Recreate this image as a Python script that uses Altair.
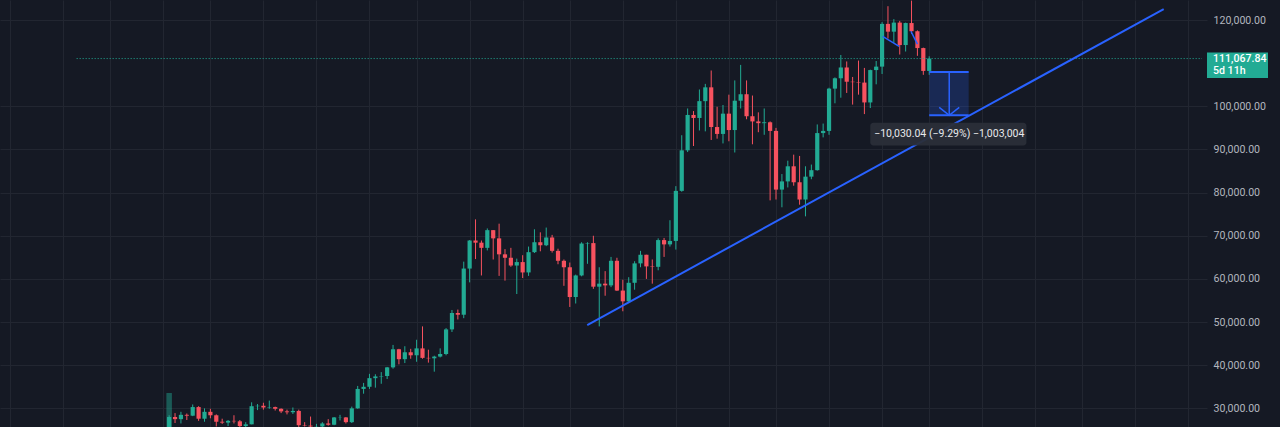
import altair as alt
import pandas as pd

# ---------------- data (weekly BTC candles, first candle = week of 2023-03-13) ----------------
base_date = "2023-03-13"
opens = [20600, 28000, 27500, 28500, 28300, 30300, 27600, 29200, 28400, 26900,
         26700, 27100, 27000, 25900, 26300, 30500, 30600, 30200, 30300, 29900,
         29300, 29100, 29400, 26100, 26000, 25800, 25800, 26500, 26200, 27900,
         27900, 26800, 30000, 34500, 35000, 37000, 37400, 37500, 39500, 43700,
         41400, 43000, 42300, 43900, 41700, 41600, 42000, 42600, 48300, 52100,
         51700, 62400, 68900, 68400, 67200, 71300, 69400, 65700, 64900, 63100,
         63900, 61500, 66200, 68500, 67800, 69600, 66500, 64200, 62700, 55800,
         60800, 68200, 68300, 58200, 58900, 58500, 64200, 57300, 54800, 59100,
         63600, 65600, 62900, 62800, 69000, 68000, 68800, 80400, 89800, 98000,
         97300, 101200, 104400, 95200, 93600, 98300, 94500, 101300, 102800, 97700,
         96500, 96100, 96300, 94300, 80700, 82600, 86100, 82400, 78400, 83700,
         85200, 93800, 94300, 104100, 106500, 109000, 105700, 105600, 105500, 100900,
         108400, 109200, 119100, 117300, 119400, 114200, 119300, 117400, 113500, 108200]
highs = [28400, 28900, 29200, 28800, 30900, 30500, 30000, 29900, 28600, 27600,
         27300, 28400, 27300, 26800, 31400, 31000, 31300, 31800, 30400, 30000,
         29700, 30200, 29700, 26800, 28100, 26400, 26800, 27500, 28000, 28500,
         28000, 30400, 35200, 35900, 38000, 37900, 38400, 39600, 44700, 43800,
         44400, 43800, 45900, 49000, 43600, 42200, 43900, 48600, 52800, 52900,
         64000, 69000, 73800, 68900, 71700, 71300, 72800, 66900, 67200, 64700,
         65500, 67500, 71500, 70800, 71900, 70200, 67000, 64500, 63800, 61000,
         68500, 68500, 70000, 62700, 61800, 65100, 64900, 59800, 60400, 64100,
         66500, 65600, 64500, 69400, 69500, 73600, 81500, 93300, 99500, 98900,
         103900, 105200, 108300, 99900, 100300, 102700, 106000, 109600, 106000, 102500,
         98600, 99500, 96500, 95000, 84300, 87400, 88800, 88500, 86100, 86500,
         95800, 96000, 104300, 106700, 111900, 110400, 106800, 110600, 108900, 108500,
         110500, 119500, 123200, 120200, 119800, 119400, 124500, 117600, 113600, 111600]
lows = [19600, 26600, 26500, 27300, 28200, 27100, 26900, 27700, 25800, 26400,
        25900, 26500, 25400, 24800, 26300, 29600, 29700, 29900, 29500, 28900,
        28600, 28700, 25200, 25800, 25400, 25400, 24900, 26000, 26100, 27200,
        26500, 26600, 29900, 33400, 34500, 34800, 35700, 36800, 39200, 40200,
        40500, 41500, 40800, 41500, 40600, 38500, 41800, 42300, 47700, 50600,
        50900, 59200, 64600, 60800, 66600, 64500, 60700, 59600, 62800, 56500,
        60200, 60700, 66000, 66400, 67600, 66100, 63400, 58400, 53500, 54300,
        60600, 63500, 57700, 49000, 56100, 58100, 57200, 52500, 54600, 57500,
        62700, 60000, 58900, 62000, 65100, 67500, 66800, 80200, 89400, 90800,
        94400, 94200, 92200, 92500, 91400, 91900, 89300, 99500, 97000, 91200,
        94000, 93400, 78200, 78400, 76600, 81200, 81600, 77200, 74500, 83100,
        85100, 92800, 93400, 100700, 102000, 103100, 100400, 102700, 98200, 99600,
        105100, 107500, 115700, 114700, 112000, 112700, 116800, 111700, 107300, 107300]
closes = [28000, 27500, 28500, 28300, 30300, 27600, 29200, 28400, 26900, 26700,
          27100, 27000, 25900, 26300, 30500, 30600, 30200, 30300, 29900, 29300,
          29100, 29400, 26100, 26000, 25800, 25850, 26500, 26200, 27900, 27950,
          26800, 30000, 34500, 35000, 37000, 37400, 37500, 39500, 43700, 41400,
          43000, 42300, 43900, 41700, 41600, 42000, 42600, 48300, 52100, 51700,
          62400, 68900, 68400, 67200, 71300, 69400, 65700, 64900, 63100, 63900,
          61500, 66200, 68500, 67800, 69600, 66500, 64200, 62700, 55800, 60800,
          68200, 68300, 58200, 58900, 58500, 64200, 57300, 54800, 59100, 63600,
          65600, 62900, 62800, 69000, 68000, 68800, 80400, 89800, 98000, 97300,
          101200, 104400, 95200, 93600, 98300, 94500, 101300, 102800, 97700, 96500,
          96100, 96300, 94300, 80700, 82600, 86100, 82400, 78400, 83700, 85200,
          93800, 94300, 104100, 106500, 109000, 105700, 105600, 105500, 100900, 108400,
          109200, 119100, 117300, 119400, 114200, 119300, 117400, 113500, 108200, 111067.84]

volume_week = [0]          # the only volume-overlay bar tall enough to be visible
volume_top = [33556]

last_price = 111067.84
last_price_text = "111,067.84"
countdown_text = "5d 11h"
price_line_i = [-15.7, 175.3]   # dotted last-price line extent (week index)

# trend line (week index, price)
trend_i = [70.96, 168.8]
trend_v = [49316, 122549]

# small drawn segments near the top
seg_id = ["a", "a", "b", "b"]
seg_i = [121.1, 123.9, 125.9, 127.0]
seg_v = [116200, 113900, 117400, 114400]

# price-range measurement
measure_i = [129.0, 135.7]
measure_top = 107966
measure_bottom = 97936
measure_arrow_i = 132.4
arrow_head_i = [130.7, 132.4, 134.1]
arrow_head_v = [99770, 97936, 99770]
measure_text = "\u221210,030.04 (\u22129.29%) \u22121,003,004"
label_i = [119.0, 145.5]
label_v = [96200, 90900]
label_text_v = 93550

price_ticks = [30000, 40000, 50000, 60000, 70000, 80000, 90000, 100000, 120000]

# ---------------- styling ----------------
BG = "#151924"
GRID = "#222631"
UP = "#22ab94"
DOWN = "#f7525f"
BLUE = "#2962ff"
LABEL = "#b2b5be"
FONT = "Roboto"

base = pd.Timestamp(base_date)
grid_i = []
for yr in range(2022, 2027):
    for m in (1, 3, 5, 7, 9, 11):
        d = pd.Timestamp(year=yr, month=m, day=1)
        d = d + pd.Timedelta(days=(7 - d.weekday()) % 7)
        grid_i.append((d - base).days / 7)

x_dom = [-27.86, 175.3]
y_dom = [25680, 124640]
grid_i = [g for g in grid_i if x_dom[0] < g < x_dom[1]]

xs = alt.Scale(domain=x_dom, nice=False, zero=False)
ys = alt.Scale(domain=y_dom, nice=False, zero=False)
x_axis = alt.Axis(values=grid_i, labels=False, ticks=False, domain=False, grid=True,
                  gridColor=GRID, gridWidth=1, title=None, minExtent=0, maxExtent=0)
y_axis = alt.Axis(orient="right", values=price_ticks, format=",.2f", grid=True,
                  gridColor=GRID, gridWidth=1, ticks=False, domain=False, title=None,
                  labelColor=LABEL, labelFont=FONT, labelFontSize=10.6, labelPadding=6,
                  minExtent=73, maxExtent=73)


def X(field):
    return alt.X(field, type="quantitative", scale=xs, axis=x_axis)


def Y(field):
    return alt.Y(field, type="quantitative", scale=ys, axis=y_axis)


n = len(closes)
df = pd.DataFrame({
    "i": list(range(n)),
    "open": opens, "high": highs, "low": lows, "close": closes,
})
df["dir"] = ["up" if c >= o else "down" for o, c in zip(opens, closes)]
color = alt.Color("dir:N", scale=alt.Scale(domain=["up", "down"], range=[UP, DOWN]), legend=None)

vol_df = pd.DataFrame({"i": volume_week, "top": volume_top, "bot": [y_dom[0] - 5000]})
volume = alt.Chart(vol_df).mark_bar(size=5.5, color=UP, opacity=0.45, clip=True).encode(
    x=X("i"), y=Y("top"), y2="bot")

wicks = alt.Chart(df).mark_rule(strokeWidth=1, clip=True).encode(
    x=X("i"), y=Y("low"), y2="high", color=color)
bodies = alt.Chart(df).mark_bar(size=4.2, clip=True).encode(
    x=X("i"), y=Y("open"), y2="close", color=color)

price_df = pd.DataFrame({"p": [last_price], "t1": [last_price_text], "t2": [countdown_text],
                         "i1": [price_line_i[0]], "i2": [price_line_i[1]]})
price_line = alt.Chart(price_df).mark_rule(color=UP, strokeDash=[1, 2], strokeWidth=1).encode(
    x=X("i1"), x2="i2", y=Y("p"))

trend_df = pd.DataFrame({"i": trend_i, "v": trend_v})
trend = alt.Chart(trend_df).mark_line(color=BLUE, strokeWidth=2, clip=True).encode(
    x=X("i"), y=Y("v"))

seg_df = pd.DataFrame({"s": seg_id, "i": seg_i, "v": seg_v})
segs = alt.Chart(seg_df).mark_line(color=BLUE, strokeWidth=1.5).encode(
    x=X("i"), y=Y("v"), detail="s:N")

m_df = pd.DataFrame({"i1": [measure_i[0]], "i2": [measure_i[1]],
                     "top": [measure_top], "bot": [measure_bottom], "ia": [measure_arrow_i]})
m_rect = alt.Chart(m_df).mark_rect(color=BLUE, opacity=0.22).encode(
    x=X("i1"), x2="i2", y=Y("top"), y2="bot")
m_top = alt.Chart(m_df).mark_rule(color=BLUE, strokeWidth=2).encode(
    x=X("i1"), x2="i2", y=Y("top"))
m_bot = alt.Chart(m_df).mark_rule(color=BLUE, strokeWidth=2).encode(
    x=X("i1"), x2="i2", y=Y("bot"))
m_arrow = alt.Chart(m_df).mark_rule(color=BLUE, strokeWidth=1.5).encode(
    x=X("ia"), y=Y("top"), y2="bot")
head_df = pd.DataFrame({"i": arrow_head_i, "v": arrow_head_v})
m_head = alt.Chart(head_df).mark_line(color=BLUE, strokeWidth=1.5).encode(
    x=X("i"), y=Y("v"))

lab_df = pd.DataFrame({"i1": [label_i[0]], "i2": [label_i[1]], "v1": [label_v[0]],
                       "v2": [label_v[1]], "im": [measure_arrow_i], "vm": [label_text_v],
                       "t": [measure_text]})
lab_box = alt.Chart(lab_df).mark_rect(color="#2a2e39", cornerRadius=3, opacity=0.95).encode(
    x=X("i1"), x2="i2", y=Y("v1"), y2="v2")
lab_txt = alt.Chart(lab_df).mark_text(color="#e8e9ec", font=FONT, fontSize=10.5,
                                      align="center", baseline="middle").encode(
    x=X("im"), y=Y("vm"), text="t:N")

p_box = alt.Chart(price_df).mark_rect(color=UP, yOffset=-6, y2Offset=19.5).encode(
    x=alt.value(1207), x2=alt.value(1268), y=Y("p"), y2="p")
p_txt1 = alt.Chart(price_df).mark_text(color="#ffffff", font=FONT, fontSize=10.6, align="left",
                                       baseline="middle", dy=0.5, fontWeight=500).encode(
    x=alt.value(1213), y=Y("p"), text="t1:N")
p_txt2 = alt.Chart(price_df).mark_text(color="#ffffff", font=FONT, fontSize=10.6, align="left",
                                       baseline="middle", dy=12.5, fontWeight=500).encode(
    x=alt.value(1213), y=Y("p"), text="t2:N")

chart = alt.layer(
    volume, wicks, bodies, price_line, trend, segs,
    m_rect, m_top, m_bot, m_arrow, m_head, lab_box, lab_txt,
    p_box, p_txt1, p_txt2,
).properties(
    width=1207, height=427,
    autosize=alt.AutoSizeParams(type="none"),
    padding={"left": 0, "right": 73, "top": 0, "bottom": 0},
    background=BG,
).configure_view(stroke=None, fill=BG)

chart.save("out.html", embed_options={"renderer": "svg", "actions": False})
